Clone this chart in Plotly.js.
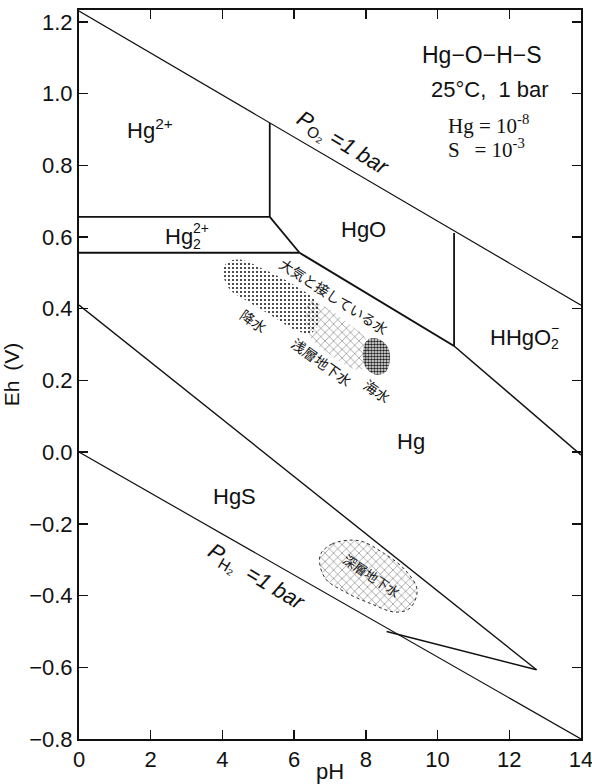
<!DOCTYPE html>
<html>
<head>
<meta charset="utf-8">
<script src="https://cdn.plot.ly/plotly-3.0.1.min.js"></script>
<style>html,body{margin:0;padding:0;background:#fff;}#chart{width:592px;height:784px;}</style>
</head>
<body>
<div id="chart"></div>
<script>
// ---- axis ticks ----
const xTicks = [0, 2, 4, 6, 8, 10, 12, 14];
const yTicks = [-0.8, -0.6, -0.4, -0.2, 0.0, 0.2, 0.4, 0.6, 0.8, 1.0, 1.2];
const yTickText = ["\u22120.8", "\u22120.6", "\u22120.4", "\u22120.2", "0.0", "0.2", "0.4", "0.6", "0.8", "1.0", "1.2"];

// ---- water stability limits ----
const o2PH = [0, 14];
const o2Eh = [1.23, 0.41];
const h2PH = [0, 14];
const h2Eh = [0.0, -0.80];

// ---- phase boundaries (pH, Eh) ----
const hg2Hg22PH = [0, 5.32];
const hg2Hg22Eh = [0.656, 0.656];
const hg2HgOPH = [5.32, 5.32];
const hg2HgOEh = [0.656, 0.918];
const hg22HgOPH = [5.32, 6.15];
const hg22HgOEh = [0.656, 0.556];
const hg22HgPH = [0, 6.15];
const hg22HgEh = [0.556, 0.556];
const hgOHgPH = [6.15, 10.46];
const hgOHgEh = [0.556, 0.296];
const hgOHHgO2PH = [10.46, 10.46];
const hgOHHgO2Eh = [0.296, 0.611];
const hhgo2HgPH = [10.46, 14];
const hhgo2HgEh = [0.296, -0.008];
const hgsHgPH = [0, 12.76];
const hgsHgEh = [0.41, -0.607];
const hgsLowPH = [8.58, 12.76];
const hgsLowEh = [-0.50, -0.607];

// ---- natural water fields ----
const rainPH = [4.155, 4.49, 5.05, 5.88, 6.58, 6.72, 6.66, 6.44, 6.02, 5.33, 4.63, 4.21, 4.04, 4.04, 4.155];
const rainEh = [0.531, 0.537, 0.515, 0.473, 0.425, 0.397, 0.355, 0.330, 0.341, 0.383, 0.425, 0.453, 0.487, 0.515, 0.531];
const shallowPH = [6.44, 7.00, 7.56, 7.98, 8.06, 7.89, 7.56, 7.00, 6.50, 6.33, 6.44];
const shallowEh = [0.420, 0.397, 0.355, 0.319, 0.272, 0.230, 0.236, 0.272, 0.314, 0.364, 0.420];
const seaPH = [8.06, 8.39, 8.62, 8.67, 8.56, 8.28, 8.00, 7.92, 8.06];
const seaEh = [0.314, 0.314, 0.291, 0.258, 0.224, 0.216, 0.235, 0.280, 0.314];
const deepPH = [6.72, 7.06, 7.81, 8.53, 9.09, 9.43, 9.23, 8.81, 8.17, 7.42, 6.86, 6.72];
const deepEh = [-0.289, -0.256, -0.247, -0.284, -0.328, -0.384, -0.435, -0.446, -0.424, -0.390, -0.351, -0.289];

const traces = [];
function area(x, y, shape, size, sol, dash) {
  traces.push({
    x: x, y: y, mode: 'lines', type: 'scatter', fill: 'toself',
    line: {width: dash ? 1 : 0, color: '#333', dash: dash || 'solid', shape: 'spline', smoothing: 1},
    fillcolor: 'rgba(255,255,255,0)',
    fillpattern: {shape: shape, size: size, solidity: sol, fgcolor: '#222', bgcolor: 'rgba(255,255,255,0)'},
    hoverinfo: 'skip', showlegend: false
  });
}
area(rainPH, rainEh, '.', 4, 0.22);
area(shallowPH, shallowEh, 'x', 6, 0.12);
area(seaPH, seaEh, '.', 3, 0.6);
area(deepPH, deepEh, 'x', 6, 0.12, 'dot');

function seg(x, y, w) {
  traces.push({x: x, y: y, mode: 'lines', type: 'scatter',
    line: {color: '#111', width: w}, hoverinfo: 'skip', showlegend: false});
}
seg(o2PH, o2Eh, 1.2);
seg(h2PH, h2Eh, 1.2);
seg(hg2Hg22PH, hg2Hg22Eh, 1.8);
seg(hg2HgOPH, hg2HgOEh, 1.8);
seg(hg22HgOPH, hg22HgOEh, 1.8);
seg(hg22HgPH, hg22HgEh, 1.8);
seg(hgOHgPH, hgOHgEh, 2);
seg(hgOHHgO2PH, hgOHHgO2Eh, 1.8);
seg(hhgo2HgPH, hhgo2HgEh, 1.6);
seg(hgsHgPH, hgsHgEh, 1.4);
seg(hgsLowPH, hgsLowEh, 1.6);

const SANS = 'Liberation Sans, Arial, sans-serif';
const SERIF = 'Liberation Serif, Times New Roman, serif';
const JP = 'Noto Sans CJK JP, sans-serif';
function ann(text, x, y, size, opts) {
  return Object.assign({text: text, x: x, y: y, xref: 'x', yref: 'y', showarrow: false, borderpad: 0,
    font: {family: SANS, size: size, color: '#111'}}, opts || {});
}
function jp(text, x, y, size, angle) {
  return ann(text, x, y, size, {textangle: angle, font: {family: JP, size: size, color: '#111'}});
}
const annotations = [
  ann('Hg<sup>2+</sup>', 1.98, 0.90, 22),
  ann('Hg', 3.20, 0.60, 22, {xanchor: 'right'}),
  ann('2+', 3.20, 0.60, 14, {xanchor: 'left', yshift: 9, xshift: -2}),
  ann('2', 3.20, 0.60, 14, {xanchor: 'left', yshift: -7, xshift: -2}),
  ann('HgO', 7.94, 0.62, 22),
  ann('HHgO', 13.2, 0.32, 22, {xanchor: 'right'}),
  ann('\u2212', 13.2, 0.32, 14, {xanchor: 'left', yshift: 9, xshift: -2}),
  ann('2', 13.2, 0.32, 14, {xanchor: 'left', yshift: -7, xshift: -2}),
  ann('Hg', 9.25, 0.03, 22),
  ann('HgS', 4.35, -0.125, 22),
  ann('Hg\u2212O\u2212H\u2212S', 11.25, 1.107, 23),
  ann('25\u00b0C,  1 bar', 11.45, 1.01, 22),
  ann('Hg = 10<sup>-8</sup>', 10.25, 0.913, 21, {xanchor: 'left', font: {family: SERIF, size: 21, color: '#111'}}),
  ann('S \u2009 = 10<sup>-3</sup>', 10.25, 0.848, 21, {xanchor: 'left', font: {family: SERIF, size: 21, color: '#111'}}),
  ann('<i>P</i><sub>O\u2082</sub> =<i>1 bar</i>', 7.35, 0.86, 22, {textangle: 31}),
  ann('<i>P</i><sub>H\u2082</sub>  =<i>1 bar</i>', 4.95, -0.35, 22, {textangle: 31}),
  jp('大気と接している水', 7.1, 0.435, 14, 33),
  jp('降水', 4.88, 0.367, 14, 35),
  jp('浅層地下水', 6.78, 0.252, 14, 36),
  jp('海水', 8.32, 0.17, 14, 35),
  jp('深層地下水', 8.16, -0.345, 13, 34)
];

const layout = {
  width: 592, height: 784,
  margin: {l: 79, r: 11, t: 10, b: 45, pad: 0},
  paper_bgcolor: '#fff', plot_bgcolor: '#fff',
  showlegend: false,
  font: {family: SANS, color: '#111'},
  xaxis: {
    range: [0, 14], tickvals: xTicks, ticks: 'inside', ticklen: 9, tickwidth: 1.5, tickcolor: '#111',
    mirror: 'ticks', showline: true, linewidth: 2, linecolor: '#111', showgrid: false, zeroline: false,
    ticklabeloverflow: 'allow',
    tickfont: {size: 22, family: SANS, color: '#111'},
    title: {text: 'pH', font: {size: 22, family: SANS, color: '#111'}, standoff: 9}
  },
  yaxis: {
    range: [-0.8, 1.233], tickvals: yTicks, ticktext: yTickText, ticks: 'inside', ticklen: 9, tickwidth: 1.5, tickcolor: '#111',
    mirror: 'ticks', showline: true, linewidth: 2, linecolor: '#111', showgrid: false, zeroline: false,
    ticklabeloverflow: 'allow',
    tickfont: {size: 22, family: SANS, color: '#111'},
    title: {text: 'Eh\u2009 (V)', font: {size: 21, family: SANS, color: '#111'}, standoff: 4}
  },
  annotations: annotations
};

Plotly.newPlot('chart', traces, layout, {staticPlot: true, displayModeBar: false});
</script>
</body>
</html>
